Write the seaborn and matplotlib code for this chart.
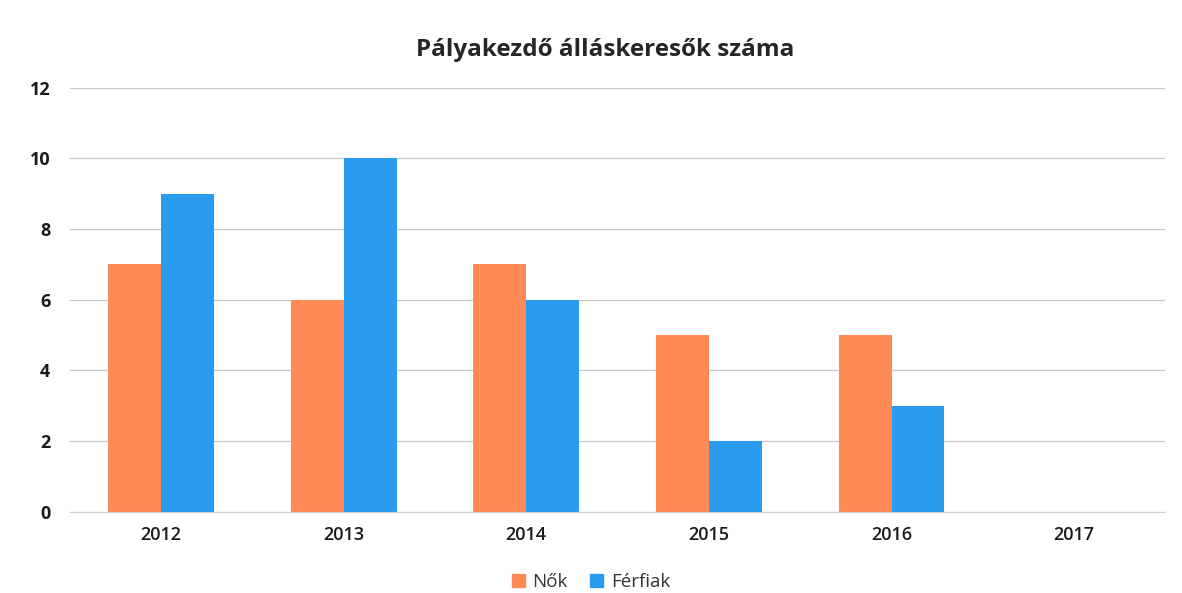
import pandas as pd
import numpy as np
import seaborn as sns
import matplotlib.pyplot as plt
from matplotlib.patches import Patch

#data
years=["2012","2013","2014","2015","2016","2017"]
nok=[7,6,7,5,5,np.nan]
ferfiak=[9,10,6,2,3,np.nan]
series=["Nők","Férfiak"]
colors=["#FF8A55","#2A9CF0"]

df=pd.DataFrame({"ev":years*2,
                 "ertek":nok+ferfiak,
                 "nem":[series[0]]*len(years)+[series[1]]*len(years)})

sns.set_style("white")
plt.rcParams['font.family']=['Open Sans','DejaVu Sans']

fig=plt.figure(figsize=(11.82,5.93),dpi=100)
ax=fig.add_axes([0.059,0.137,0.927,0.715])

sns.barplot(data=df,x="ev",y="ertek",hue="nem",order=years,hue_order=series,
            palette=colors,width=0.58,errorbar=None,ax=ax,
            saturation=1,legend=False,linewidth=0)

ax.set_ylim(0,12)
ax.set_yticks(range(0,13,2))
ax.set_xlim(-0.5,5.5)
ax.yaxis.grid(True,color="#c8c8c8",linewidth=0.9)
ax.set_axisbelow(True)
for s in ["top","right","left"]:
    ax.spines[s].set_visible(False)
ax.spines["bottom"].set_color("#d0d0d0")
ax.tick_params(axis="y",length=0,labelsize=13,colors="#1a1a1a",pad=14)
ax.tick_params(axis="x",length=0,labelsize=13,colors="#1a1a1a",pad=10)
for t in ax.get_yticklabels():
    t.set_fontweight("bold")
for t in ax.get_xticklabels():
    t.set_fontweight("semibold")
ax.set_xlabel("")
ax.set_ylabel("")

fig.text(0.512,0.915,"Pályakezdő álláskeresők száma",ha="center",va="center",
         fontsize=17.5,fontweight="bold",color="#262626")

handles=[Patch(color=colors[0],label=series[0]),Patch(color=colors[1],label=series[1])]
fig.legend(handles=handles,loc="center",bbox_to_anchor=(0.5,0.018),ncol=2,frameon=False,
           fontsize=13.5,handlelength=0.7,handleheight=0.7,handletextpad=0.4,columnspacing=1.2,
           labelcolor="#333333")

plt.savefig("out.png",dpi=100)
